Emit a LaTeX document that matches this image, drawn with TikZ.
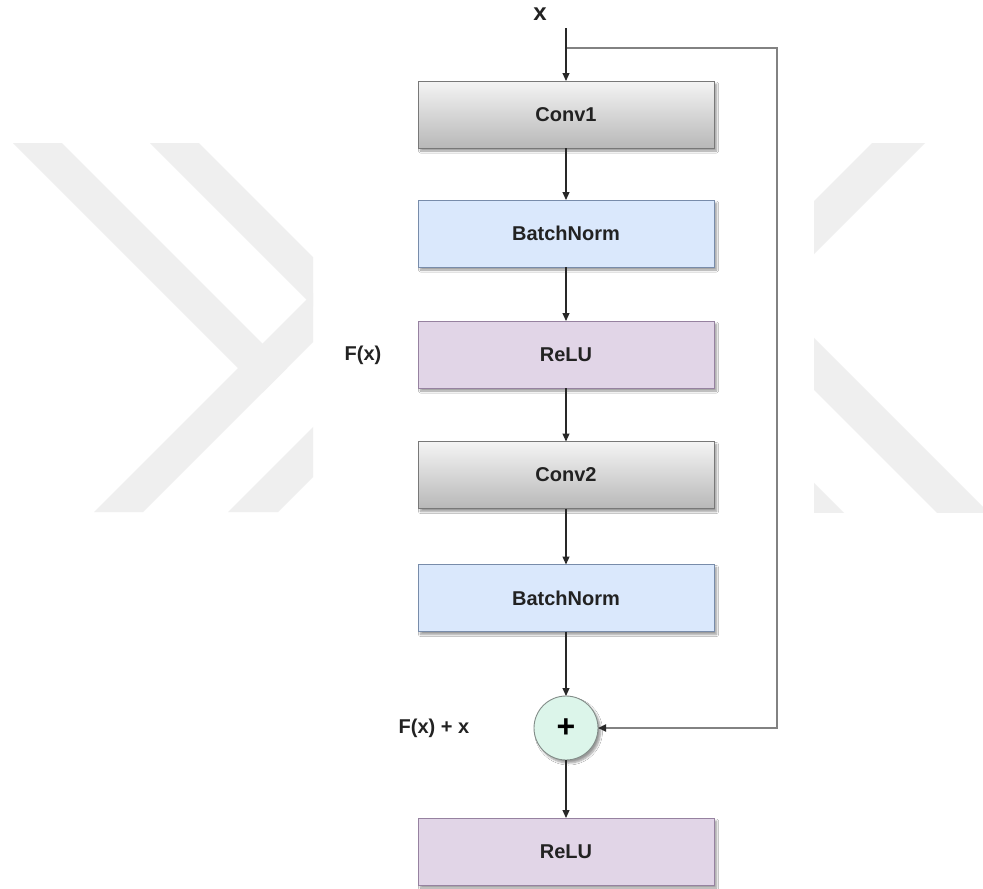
\documentclass[tikz,border=0pt]{standalone}
\usepackage{fontspec}
\setmainfont{Liberation Sans}
\usetikzlibrary{arrows.meta,shadows.blur}

\definecolor{wmark}{RGB}{239,239,239}
\definecolor{txt}{RGB}{34,34,34}
\definecolor{convtop}{RGB}{244,244,244}
\definecolor{convbot}{RGB}{184,184,184}
\definecolor{convline}{RGB}{120,120,120}
\definecolor{normfill}{RGB}{218,232,252}
\definecolor{normline}{RGB}{120,140,170}
\definecolor{relufill}{RGB}{225,213,231}
\definecolor{reluline}{RGB}{150,130,160}
\definecolor{sumfill}{RGB}{220,245,234}
\definecolor{sumline}{RGB}{130,140,136}
\definecolor{arrowc}{RGB}{40,40,40}
\definecolor{loopc}{RGB}{130,130,130}

\begin{document}
\begin{tikzpicture}[x=1pt,y=-1pt,
  block/.style={rectangle, minimum width=296pt, minimum height=67pt,
    inner sep=0pt, outer sep=0pt, line width=0.9pt, text=txt,
    font=\bfseries\fontsize{20}{24}\selectfont,
    blur shadow={shadow xshift=2.5pt, shadow yshift=-3pt,
      shadow blur radius=2pt, shadow blur steps=6, shadow opacity=40}},
  convbox/.style={block, draw=convline, top color=convtop, bottom color=convbot},
  normbox/.style={block, draw=normline, fill=normfill},
  relubox/.style={block, draw=reluline, fill=relufill},
  sumnode/.style={circle, minimum size=64pt, inner sep=0pt, outer sep=0pt,
    draw=sumline, line width=0.9pt, fill=sumfill, text=black,
    font=\bfseries\fontsize{32}{34}\selectfont,
    blur shadow={shadow xshift=2.5pt, shadow yshift=-3pt,
      shadow blur radius=2pt, shadow blur steps=6, shadow opacity=40}},
  lbl/.style={text=txt, inner sep=0pt, font=\bfseries\fontsize{20}{24}\selectfont},
  flow/.style={draw=arrowc, line width=1.1pt, -{Triangle[length=8pt,width=7pt]}},
  skipline/.style={draw=loopc, line width=1.8pt,
    -{Triangle[length=8pt,width=7pt,color=arrowc]}}
]
\useasboundingbox (0,0) rectangle (983,889);
\fill[white] (0,0) rectangle (983,889);

% faint chevron marks behind the diagram, left side
\begin{scope}
  \clip (0,143) rectangle (313,512);
  \fill[wmark] (13,143) -- (62,143) -- (287,368) -- (262.5,392.5) -- cycle;
  \fill[wmark] (94,512) -- (143,512) -- (500,155) -- (451,155) -- cycle;
  \fill[wmark] (150,143) -- (199,143) -- (600,544) -- (551,544) -- cycle;
  \fill[wmark] (228,512) -- (278,512) -- (600,190) -- (550,190) -- cycle;
\end{scope}
% faint marks, right side
\begin{scope}
  \clip (814,143) rectangle (983,512);
  \fill[wmark] (872,143) -- (925,143) -- (700,368) -- (647,368) -- cycle;
  \fill[wmark] (700,224) -- (700,276) -- (1100,676) -- (1100,624) -- cycle;
  \fill[wmark] (700,369) -- (700,420) -- (1100,820) -- (1100,769) -- cycle;
\end{scope}

% layers of the residual block
\node[convbox] (conv1) at (566,114.5) {Conv1};
\node[normbox] (bn1)   at (566,233.5) {BatchNorm};
\node[relubox] (relu1) at (566,354.5) {ReLU};
\node[convbox] (conv2) at (566,475)   {Conv2};
\node[normbox] (bn2)   at (566,598)   {BatchNorm};
\node[sumnode] (sum)   at (566,728)   {+};
\node[relubox] (relu2) at (566,851.5) {ReLU};

% labels
\node[lbl, font=\bfseries\fontsize{24}{26}\selectfont] (xin) at (540,14) {x};
\node[lbl] (fx)  at (363,355) {F(x)};
\node[lbl] (fxx) at (434,728) {F(x) + x};

% input and shortcut path
\coordinate (start) at (566,28);
\coordinate (split) at (566,48);
\coordinate (topright) at (777,48);
\coordinate (botright) at (777,728);

\draw[skipline] (split) -- (topright) -- (botright) -- (sum.east);

\draw[flow] (start) -- (conv1.north);
\draw[flow] (conv1) -- (bn1);
\draw[flow] (bn1) -- (relu1);
\draw[flow] (relu1) -- (conv2);
\draw[flow] (conv2) -- (bn2);
\draw[flow] (bn2) -- (sum);
\draw[flow] (sum) -- (relu2);
\end{tikzpicture}
\end{document}
